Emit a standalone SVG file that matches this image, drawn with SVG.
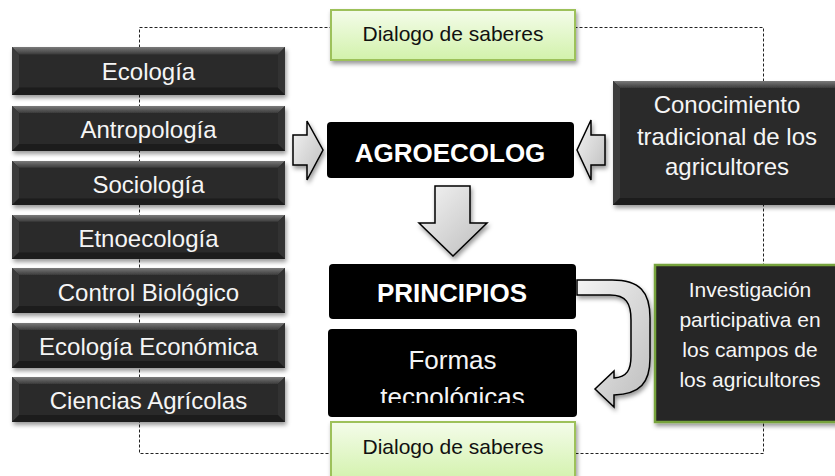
<svg xmlns="http://www.w3.org/2000/svg" width="835" height="476" viewBox="0 0 835 476">
<defs>
<style>
.t{font-family:"Liberation Sans",Arial,sans-serif;fill:#f5f5f5;text-anchor:middle}
.tb{font-family:"Liberation Sans",Arial,sans-serif;fill:#ffffff;text-anchor:middle;font-weight:bold;font-size:26px}
.tg{font-family:"Liberation Sans",Arial,sans-serif;fill:#111;text-anchor:middle;font-size:21px}
.blk{fill:#000}
.green{fill:url(#gGreen);stroke:#9dc15a;stroke-width:2}
.arr{fill:url(#gArr);stroke:#000;stroke-width:1.5;stroke-linejoin:miter}
.dash{fill:none;stroke:#222;stroke-width:1;stroke-dasharray:3 2}
</style>
<linearGradient id="gGreen" x1="0" y1="0" x2="0" y2="1">
<stop offset="0" stop-color="#f4fcea"/>
<stop offset="1" stop-color="#d2f2ab"/>
</linearGradient>
<linearGradient id="gArr" x1="0" y1="0" x2="1" y2="1">
<stop offset="0" stop-color="#f4f4f4"/>
<stop offset="1" stop-color="#bdbdbd"/>
</linearGradient>
<linearGradient id="gTop" x1="0" y1="0" x2="0" y2="1">
<stop offset="0" stop-color="#7a7a7a"/>
<stop offset="1" stop-color="#3a3a3a"/>
</linearGradient>
<filter id="sh" x="-10%" y="-10%" width="130%" height="140%">
<feDropShadow dx="1.5" dy="3" stdDeviation="2" flood-color="#000" flood-opacity="0.4"/>
</filter>
<symbol id="bev" viewBox="0 0 273 45" preserveAspectRatio="none">
<rect x="0" y="0" width="273" height="45" fill="#2b2b2b"/>
<polygon points="0,0 273,0 266,7 7,7" fill="url(#gTop)"/>
<polygon points="0,0 7,7 7,38 0,45" fill="#3a3a3a"/>
<polygon points="273,0 266,7 266,38 273,45" fill="#333"/>
<polygon points="0,45 7,38 266,38 273,45" fill="#1f1f1f"/>
</symbol>
<clipPath id="clipF"><rect x="328" y="329" width="249" height="74"/></clipPath>
</defs>
<rect width="835" height="476" fill="#fff"/>

<g id="connectors">
<rect class="dash" x="139.5" y="27.5" width="624" height="426"/>
<polygon class="arr" filter="url(#sh)" points="293,135 307,135 307,121 323,150 307,180 307,165 293,165"/>
<polygon class="arr" filter="url(#sh)" points="605,135 591,135 591,120 577,150 591,180 591,165 605,165"/>
<polygon class="arr" filter="url(#sh)" points="435,186 470,186 470,223 487,223 453,256 419,223 435,223"/>
<path class="arr" filter="url(#sh)" d="M577,280 L612,280 C640,280 650,292 650,318 L650,358 C650,383 640,394 614,395 L614,407 L595,389 L614,371 L614,378 C627,377 631,370 631,356 L631,320 C631,303 626,295 610,295 L577,295 Z"/>
</g>

<g id="ecologia">
<use href="#bev" x="12" y="47" width="273" height="48" filter="url(#sh)"/>
<text class="t" x="148.5" y="80" font-size="24">Ecología</text>
</g>
<g id="antropologia">
<use href="#bev" x="12" y="106" width="273" height="45" filter="url(#sh)"/>
<text class="t" x="148.5" y="138" font-size="24">Antropología</text>
</g>
<g id="sociologia">
<use href="#bev" x="12" y="161" width="273" height="44" filter="url(#sh)"/>
<text class="t" x="148.5" y="193" font-size="24">Sociología</text>
</g>
<g id="etnoecologia">
<use href="#bev" x="12" y="215" width="273" height="44" filter="url(#sh)"/>
<text class="t" x="148.5" y="247" font-size="24">Etnoecología</text>
</g>
<g id="control">
<use href="#bev" x="12" y="268" width="273" height="45" filter="url(#sh)"/>
<text class="t" x="148.5" y="301" font-size="24">Control Biológico</text>
</g>
<g id="ecoeco">
<use href="#bev" x="12" y="323" width="273" height="45" filter="url(#sh)"/>
<text class="t" x="148.5" y="355" font-size="24">Ecología Económica</text>
</g>
<g id="ciencias">
<use href="#bev" x="12" y="377" width="273" height="45" filter="url(#sh)"/>
<text class="t" x="148.5" y="409" font-size="24">Ciencias Agrícolas</text>
</g>

<g id="dialogo-top">
<rect class="green" filter="url(#sh)" x="331" y="10" width="244" height="50"/>
<text class="tg" x="453" y="41">Dialogo de saberes</text>
</g>

<g id="agroecolog">
<rect class="blk" x="327" y="122" width="247" height="56" rx="4"/>
<text class="tb" x="450" y="162">AGROECOLOG</text>
</g>

<g id="conocimiento">
<g filter="url(#sh)">
<rect x="613" y="81" width="232" height="124" fill="#2b2b2b"/>
<polygon points="613,81 845,81 838,88 620,88" fill="url(#gTop)"/>
<polygon points="613,81 620,88 620,198 613,205" fill="#3a3a3a"/>
<polygon points="613,205 620,198 838,198 845,205" fill="#1f1f1f"/>
</g>
<text class="t" x="727" y="113" font-size="24">Conocimiento</text>
<text class="t" x="727" y="145" font-size="24">tradicional de los</text>
<text class="t" x="727" y="175" font-size="24">agricultores</text>
</g>

<g id="principios">
<rect class="blk" x="329" y="264" width="247" height="55" rx="4"/>
<text class="tb" x="452" y="302">PRINCIPIOS</text>
</g>

<g id="formas">
<rect class="blk" x="328" y="329" width="249" height="88" rx="4"/>
<g clip-path="url(#clipF)">
<text class="t" x="452.5" y="369" font-size="26">Formas</text>
<text class="t" x="452.5" y="406" font-size="26">tecnológicas</text>
</g>
</g>

<g id="investigacion">
<rect x="655" y="265" width="190" height="157" fill="#262626" stroke="#77a33c" stroke-width="2.5" filter="url(#sh)"/>
<text class="t" x="750" y="297" font-size="21">Investigación</text>
<text class="t" x="750" y="327" font-size="21">participativa en</text>
<text class="t" x="750" y="357" font-size="21">los campos de</text>
<text class="t" x="750" y="387" font-size="21">los agricultores</text>
</g>

<g id="dialogo-bottom">
<rect class="green" filter="url(#sh)" x="331" y="422" width="244" height="60"/>
<text class="tg" x="453" y="454">Dialogo de saberes</text>
</g>
</svg>
